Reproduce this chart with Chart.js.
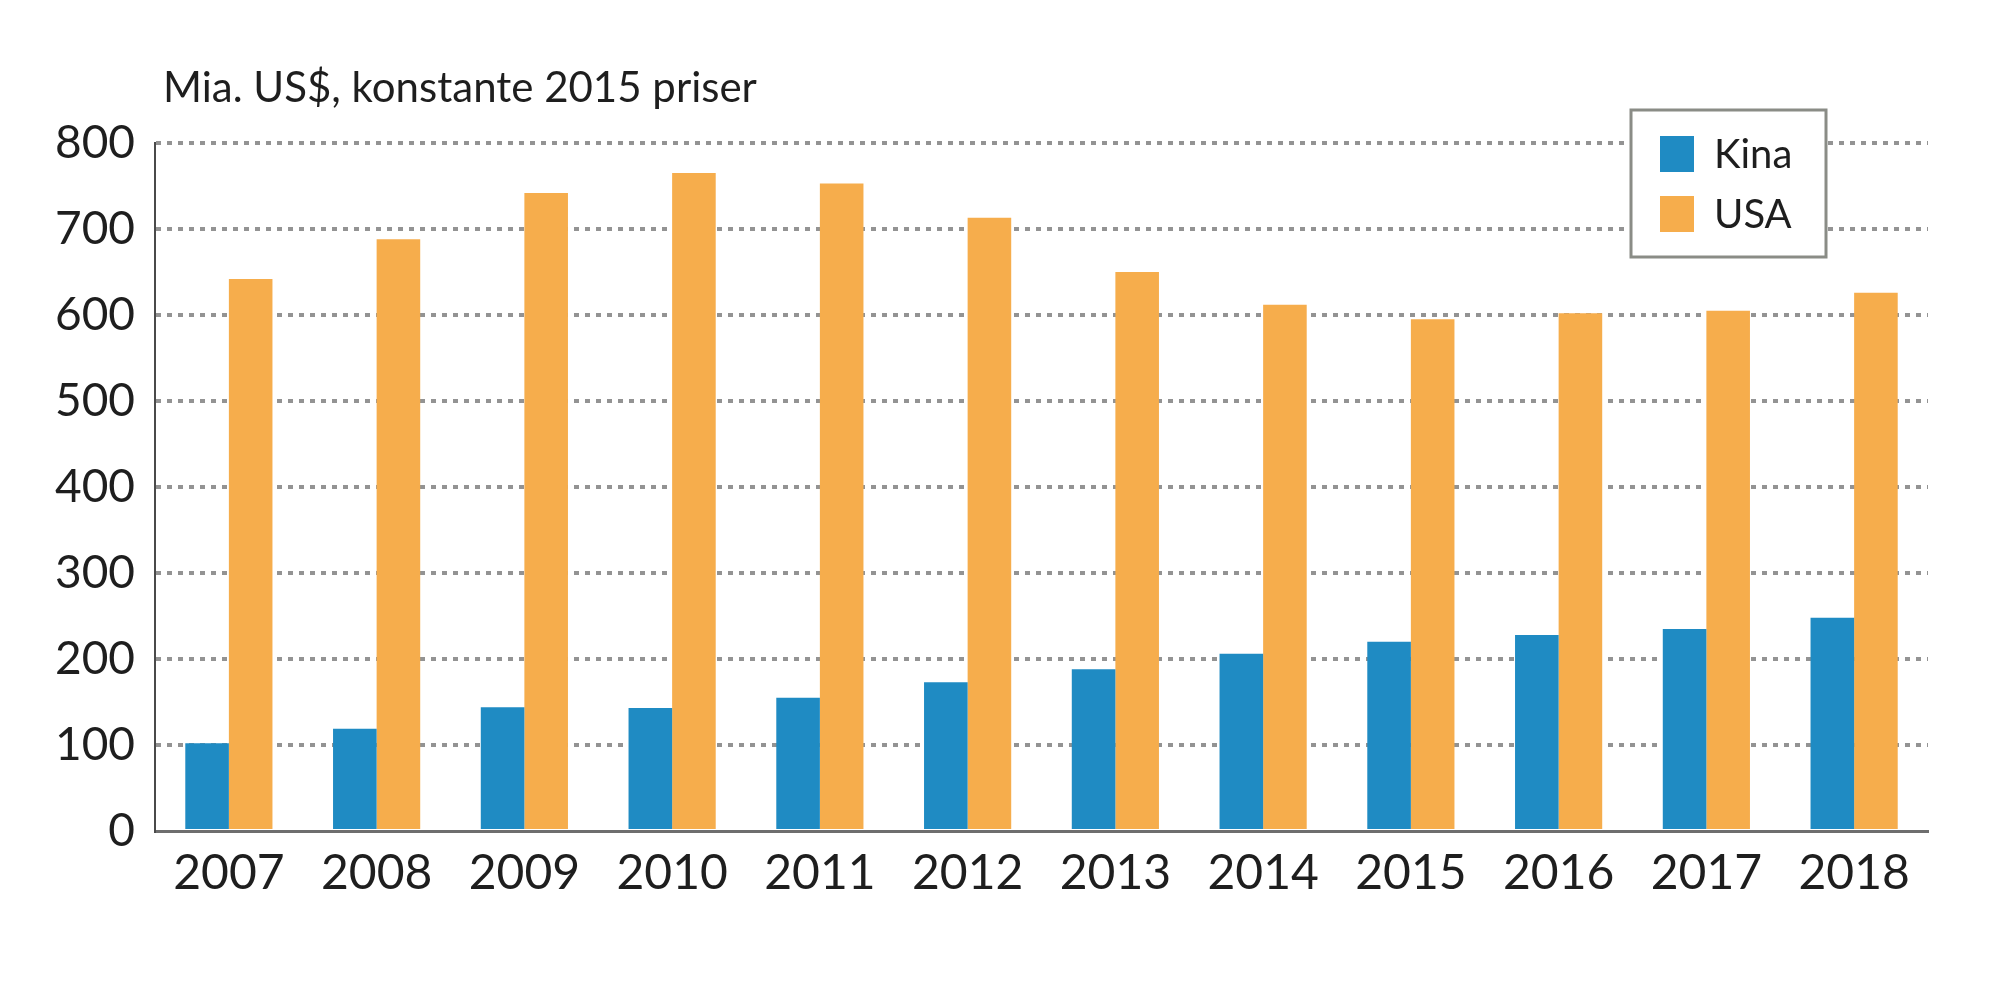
<!DOCTYPE html>
<html>
<head>
<meta charset="utf-8">
<script src="https://cdn.jsdelivr.net/npm/chart.js@4/dist/chart.umd.min.js"></script>
<style>
  html, body { margin: 0; padding: 0; background: #fff; }
  #wrap { width: 2000px; height: 1004px; }
</style>
</head>
<body>
<div id="wrap"><canvas id="myChart"></canvas></div>
<script>
// data
const years = ['2007','2008','2009','2010','2011','2012','2013','2014','2015','2016','2017','2018'];
const kina = [102, 119, 144, 143, 155, 173, 188, 206, 220, 228, 235, 248];
const usa = [642, 688, 742, 765, 753, 713, 650, 612, 595, 602, 605, 626];
const yTicks = [0, 100, 200, 300, 400, 500, 600, 700, 800];
const unitText = 'Mia. US$, konstante 2015 priser';

const FONT = 'Lato, "Open Sans", sans-serif';
const TXT = '#1e1e1e';

// title + framed legend drawn on top of the chart
const extras = {
  id: 'extras',
  afterDraw(chart) {
    const c = chart.ctx;
    const area = chart.chartArea;
    c.save();
    c.fillStyle = TXT;
    c.font = '42px ' + FONT;
    c.textBaseline = 'middle';
    c.textAlign = 'left';
    c.fillText(unitText, area.left + 8, area.top - 55);

    // legend box
    const bx = 1631, by = 110, bw = 195, bh = 147;
    c.fillStyle = '#fff';
    c.fillRect(bx, by, bw, bh);
    c.strokeStyle = '#8a8c86';
    c.lineWidth = 3;
    c.strokeRect(bx, by, bw, bh);
    chart.data.datasets.forEach(function(ds, i) {
      const yy = by + 44 + i * 60;
      c.fillStyle = ds.backgroundColor;
      c.fillRect(bx + 29, yy - 18, 34, 36);
      c.fillStyle = TXT;
      c.font = '40px ' + FONT;
      c.fillText(ds.label, bx + 83, yy + 1);
    });
    c.restore();
  }
};

new Chart(document.getElementById('myChart'), {
  type: 'bar',
  data: {
    labels: years,
    datasets: [
      { label: 'Kina', data: kina, backgroundColor: '#1f8bc3', borderWidth: 0 },
      { label: 'USA', data: usa, backgroundColor: '#f6ad4c', borderWidth: 0 }
    ]
  },
  options: {
    responsive: true,
    maintainAspectRatio: false,
    animation: false,
    layout: { padding: { top: 143, right: 72, bottom: 0, left: 0 } },
    datasets: { bar: { barPercentage: 1, categoryPercentage: 0.59 } },
    plugins: {
      legend: { display: false },
      title: { display: false },
      tooltip: { enabled: false }
    },
    scales: {
      x: {
        grid: { display: false, drawTicks: false },
        border: { display: true, color: '#6e6e6e', width: 3 },
        ticks: { color: TXT, font: { family: FONT, size: 48 }, padding: 14, maxRotation: 0 },
        afterFit(s) { s.height = 1004 - 831; }
      },
      y: {
        min: 0,
        max: 800,
        afterBuildTicks(s) { s.ticks = yTicks.map(v => ({ value: v })); },
        grid: {
          drawTicks: false,
          lineWidth: 4,
          color: ctx => ctx.tick && ctx.tick.value === 0 ? 'rgba(0,0,0,0)' : '#939393'
        },
        border: { display: true, color: '#4a4a4a', width: 2, dash: [5, 6] },
        ticks: { color: TXT, font: { family: FONT, size: 46 }, padding: 20 },
        afterFit(s) { s.width = 155; }
      }
    }
  },
  plugins: [extras]
});
</script>
</body>
</html>
